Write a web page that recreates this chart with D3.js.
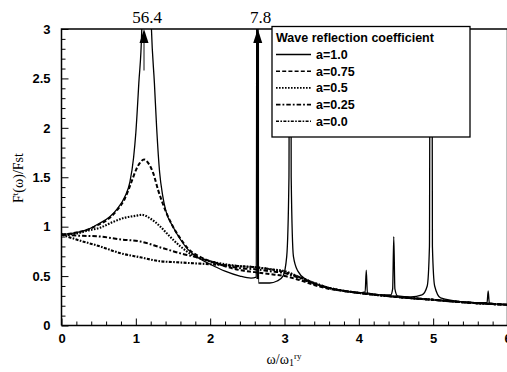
<!DOCTYPE html>
<html><head><meta charset="utf-8">
<script src="https://cdn.jsdelivr.net/npm/d3@7"></script>
<style>
html,body{margin:0;padding:0;background:#fff;}
svg{display:block;}
</style></head>
<body>
<svg id="chart" width="507" height="372"></svg>
<script>
// ---- data ----
const seriesLabels = ["a=1.0", "a=0.75", "a=0.5", "a=0.25", "a=0.0"];
const legendTitle = "Wave reflection coefficient";
const xTicks = [0, 1, 2, 3, 4, 5, 6];
const yTicks = [0, 0.5, 1, 1.5, 2, 2.5, 3];
const peakLabels = [{x: 1.11, text: "56.4"}, {x: 2.64, text: "7.8"}];

const a100 = [[0,0.92],[0.2,0.94],[0.35,0.97],[0.5,1.03],[0.65,1.1],[0.75,1.18],[0.85,1.3],[0.92,1.45],
  [0.97,1.7],[1.0,1.95],[1.04,2.45],[1.08,3.0],[1.11,5.5],[1.145,5.5],[1.21,3.0],[1.25,2.45],[1.28,2.0],
  [1.32,1.55],[1.36,1.32],[1.4,1.17],[1.5,1.0],[1.6,0.87],[1.7,0.77],[1.85,0.68],[2.0,0.62],[2.2,0.55],
  [2.4,0.5],[2.55,0.48],[2.62,0.49],[2.635,7.8],[2.65,0.43],[2.8,0.43],[2.9,0.45],[2.98,0.5],[3.03,0.7],
  [3.06,1.5],[3.075,10],[3.09,1.5],[3.12,0.7],[3.18,0.55],[3.3,0.46],[3.5,0.4],[3.8,0.35],[4.0,0.33],
  [4.085,0.34],[4.1,0.56],[4.115,0.33],[4.3,0.31],[4.43,0.31],[4.455,0.37],[4.47,0.9],[4.485,0.37],
  [4.52,0.3],[4.7,0.29],[4.85,0.31],[4.92,0.4],[4.95,0.8],[4.97,10],[4.99,0.8],[5.02,0.4],[5.1,0.28],
  [5.4,0.24],[5.725,0.23],[5.74,0.35],[5.755,0.23],[6.0,0.21]];
const a075 = [[0,0.92],[0.2,0.94],[0.35,0.97],[0.5,1.02],[0.65,1.09],[0.75,1.17],[0.85,1.28],[0.94,1.45],
  [1.0,1.57],[1.05,1.64],[1.11,1.68],[1.17,1.64],[1.23,1.55],[1.3,1.37],[1.4,1.16],[1.5,1.0],[1.6,0.88],
  [1.7,0.78],[1.85,0.7],[2.0,0.65],[2.2,0.6],[2.4,0.56],[2.6,0.54],[2.8,0.52],[3.0,0.5],[3.2,0.46],
  [3.4,0.41],[3.6,0.37],[3.8,0.35],[4.0,0.33],[4.5,0.29],[5.0,0.26],[5.5,0.23],[6.0,0.21]];
const a050 = [[0,0.92],[0.2,0.93],[0.35,0.96],[0.52,0.99],[0.7,1.05],[0.85,1.09],[1.0,1.11],[1.08,1.12],
  [1.2,1.08],[1.33,1.0],[1.42,0.93],[1.6,0.8],[1.77,0.71],[2.0,0.65],[2.2,0.62],[2.4,0.6],[2.6,0.59],
  [2.8,0.57],[3.0,0.55],[3.2,0.49],[3.4,0.43],[3.6,0.38],[3.8,0.35],[4.0,0.33],[4.5,0.29],[5.0,0.26],
  [5.5,0.23],[6.0,0.21]];
const a025 = [[0,0.92],[0.2,0.91],[0.52,0.9],[0.8,0.87],[1.06,0.85],[1.33,0.79],[1.42,0.77],[1.6,0.73],
  [1.77,0.7],[2.0,0.65],[2.2,0.61],[2.4,0.58],[2.6,0.57],[2.8,0.55],[3.0,0.53],[3.2,0.48],[3.4,0.42],
  [3.6,0.38],[3.8,0.35],[4.0,0.33],[4.5,0.29],[5.0,0.26],[5.5,0.23],[6.0,0.21]];
const a000 = [[0,0.92],[0.2,0.87],[0.52,0.8],[0.8,0.73],[1.06,0.69],[1.33,0.65],[1.55,0.64],[1.77,0.63],
  [2.0,0.62],[2.2,0.61],[2.4,0.6],[2.6,0.59],[2.8,0.57],[3.0,0.54],[3.2,0.49],[3.4,0.43],[3.6,0.38],
  [3.8,0.35],[4.0,0.33],[4.5,0.29],[5.0,0.26],[5.5,0.23],[6.0,0.21]];

const seriesData = [a100, a075, a050, a025, a000];
const dashes = [null, "4,2.2", "1.6,1.4", "4.5,2,1.8,2", "3,1.4,1.6,1.4"];
const widths = [1.3, 2, 2.1, 2, 2.1];

// ---- layout ----
const svg = d3.select("#chart");
const L = 61.5, R = 507.5, T = 29, B = 325.5;
const x = d3.scaleLinear().domain([0, 6]).range([L, R]);
const y = d3.scaleLinear().domain([0, 3]).range([B, T]);

svg.append("defs").append("clipPath").attr("id", "clip")
  .append("rect").attr("x", L).attr("y", T).attr("width", R - L).attr("height", B - T);

// minor ticks
const xMinor = d3.range(0, 6.0001, 0.2).filter(v => Math.abs(v - Math.round(v)) > 1e-6);
const yMinor = d3.range(0, 3.0001, 0.1).filter(v => Math.abs(v * 2 - Math.round(v * 2)) > 1e-6);

const gxMinor = svg.append("g").attr("transform", `translate(0,${B})`)
  .call(d3.axisBottom(x).tickValues(xMinor).tickSize(-4).tickFormat(""));
const gyMinor = svg.append("g").attr("transform", `translate(${L},0)`)
  .call(d3.axisLeft(y).tickValues(yMinor).tickSize(-4).tickFormat(""));
const gx = svg.append("g").attr("transform", `translate(0,${B})`)
  .call(d3.axisBottom(x).tickValues(xTicks).tickSize(-7).tickPadding(8).tickFormat(d3.format("d")));
const gy = svg.append("g").attr("transform", `translate(${L},0)`)
  .call(d3.axisLeft(y).tickValues(yTicks).tickSize(-7).tickPadding(11).tickFormat(d3.format("~g")));
[gxMinor, gyMinor, gx, gy].forEach(g => {
  g.select(".domain").remove();
  g.selectAll("line").attr("stroke", "#000").attr("stroke-width", 1);
});
[gx, gy].forEach(g => g.selectAll("text")
  .attr("font-family", "Liberation Sans, Arial, sans-serif").attr("font-weight", "bold")
  .attr("font-size", 13).attr("fill", "#000"));

// curves
const line = d3.line().x(d => x(d[0])).y(d => y(d[1])).curve(d3.curveMonotoneX);
const plot = svg.append("g").attr("clip-path", "url(#clip)");
seriesData.forEach((s, i) => {
  plot.append("path").datum(s).attr("d", line).attr("fill", "none").attr("stroke", "#000")
    .attr("stroke-width", widths[i]).attr("stroke-dasharray", dashes[i]);
});

// frame
svg.append("path").attr("d", `M${L},${B}H${R}M${L},${B}V${T}H${R}V${B}`)
  .attr("fill", "none").attr("stroke", "#000").attr("stroke-width", 1.5);

// arrows for off-scale peaks
const arrowFrom = [2.58, 0.47];
const arrowW = [1.4, 2.6];
const arrowCol = ["#555", "#000"];
peakLabels.forEach((p, i) => {
  svg.append("line").attr("x1", x(p.x)).attr("x2", x(p.x)).attr("y1", y(arrowFrom[i])).attr("y2", y(2.9))
    .attr("stroke", arrowCol[i]).attr("stroke-width", arrowW[i]);
  const cx = x(p.x), ty = y(3);
  svg.append("path").attr("d", `M${cx},${ty}L${cx - 4.5},${ty + 14}L${cx + 4.5},${ty + 14}Z`).attr("fill", "#000");
  svg.append("text").attr("x", cx + 3).attr("y", ty - 6).attr("text-anchor", "middle")
    .attr("font-family", "Liberation Serif, Times New Roman, serif").attr("font-size", 17)
    .attr("fill", "#000").text(p.text);
});

// legend
const lg = svg.append("g");
lg.append("rect").attr("x", 272).attr("y", 26.5).attr("width", 198).attr("height", 110.5)
  .attr("fill", "#fff").attr("stroke", "#000").attr("stroke-width", 1.3);
lg.append("text").attr("x", 276).attr("y", 42).text(legendTitle)
  .attr("font-family", "Liberation Sans, Arial, sans-serif").attr("font-weight", "bold").attr("font-size", 12.5);
seriesLabels.forEach((lab, i) => {
  const ry = 54.5 + i * 16.7;
  lg.append("line").attr("x1", 276).attr("x2", 311).attr("y1", ry).attr("y2", ry)
    .attr("stroke", "#000").attr("stroke-width", Math.min(widths[i], 1.6)).attr("stroke-dasharray", dashes[i]);
  lg.append("text").attr("x", 316).attr("y", ry + 4.5).text(lab)
    .attr("font-family", "Liberation Sans, Arial, sans-serif").attr("font-weight", "bold").attr("font-size", 12.5);
});

// axis titles
const xt = svg.append("text").attr("x", 284).attr("y", 364).attr("text-anchor", "middle")
  .attr("font-family", "Liberation Serif, Times New Roman, serif").attr("font-size", 14);
xt.append("tspan").text("ω/ω");
xt.append("tspan").attr("font-size", 10).attr("dy", 2).text("1");
xt.append("tspan").attr("font-size", 9).attr("dy", -7).text("ry");

const yt = svg.append("text").attr("transform", "translate(23,178) rotate(-90)").attr("text-anchor", "middle")
  .attr("font-family", "Liberation Serif, Times New Roman, serif").attr("font-size", 14);
yt.append("tspan").text("F");
yt.append("tspan").attr("font-size", 9).attr("dy", -5).text("t");
yt.append("tspan").attr("dy", 5).text("(ω)/Fst");
</script>
</body></html>
